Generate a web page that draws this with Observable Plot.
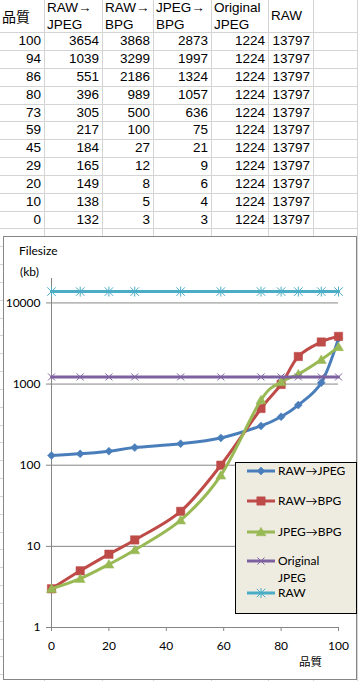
<!DOCTYPE html>
<html>
<head>
<meta charset="utf-8">
<script src="https://cdn.jsdelivr.net/npm/d3@7"></script>
<script src="https://cdn.jsdelivr.net/npm/@observablehq/plot@0.6"></script>
<style>
  html, body { margin: 0; padding: 0; background: #fff; }
  body { width: 358px; height: 681px; overflow: hidden; position: relative;
         font-family: "Liberation Sans", "Noto Sans CJK JP", sans-serif; }
  .hl { position: absolute; left: 0; width: 358px; height: 1px; background: #d4d4d4; }
  .vl { position: absolute; top: 0; width: 1px; height: 681px; background: #d4d4d4; }
  .cell { position: absolute; height: 16px; line-height: 16px; font-size: 13.5px; color: #000; white-space: nowrap; }
  .cjk { font-family: "Noto Sans CJK JP", sans-serif; font-size: 14px; }
  #chart { position: absolute; left: 3px; top: 236px; width: 354px; height: 444px; box-sizing: border-box;
           border: 1px solid #868686; background: #fff; }
  #plot { position: absolute; left: 0; top: 236px; }
  .lbl { position: absolute; font-family: Lato, "Noto Sans CJK JP", sans-serif; font-size: 12px; color: #000; white-space: nowrap; line-height: 16px; }
  #legend { position: absolute; left: 235px; top: 462px; width: 122px; height: 152px; box-sizing: border-box;
            border: 1px solid #000; background: #eeece1; }
  .ltext { position: absolute; left: 42px; font-family: Lato, "Noto Sans CJK JP", sans-serif; font-size: 12px; line-height: 16px; color: #000; white-space: nowrap; }
  .lsw { position: absolute; left: 11px; }
</style>
</head>
<body>
<div id="sheet"></div>
<div id="chart"></div>
<div id="plot"></div>
<div class="lbl" style="left:19px; top:243px;">Filesize</div>
<div class="lbl" style="left:20px; top:264px;">(kb)</div>
<div class="lbl" style="left:299px; top:653px; font-family:'Noto Sans CJK JP',sans-serif; font-size:11.5px;">品質</div>
<div id="legend"></div>
<script>
// ---------- data ----------
const quality      = [100, 94, 86, 80, 73, 59, 45, 29, 20, 10, 0];
const rawToJpeg    = [3654, 1039, 551, 396, 305, 217, 184, 165, 149, 138, 132];
const rawToBpg     = [3868, 3299, 2186, 989, 500, 100, 27, 12, 8, 5, 3];
const jpegToBpg    = [2873, 1997, 1324, 1057, 636, 75, 21, 9, 6, 4, 3];
const originalJpeg = [1224, 1224, 1224, 1224, 1224, 1224, 1224, 1224, 1224, 1224, 1224];
const rawFile      = [13797, 13797, 13797, 13797, 13797, 13797, 13797, 13797, 13797, 13797, 13797];
const headers      = [["品質"], ["RAW→", "JPEG"], ["RAW→", "BPG"], ["JPEG→", "BPG"], ["Original", "JPEG"], ["RAW"]];
const seriesNames  = ["RAW→JPEG", "RAW→BPG", "JPEG→BPG", "Original JPEG", "RAW"];
const yTicks       = [1, 10, 100, 1000, 10000];
const xTicks       = [0, 20, 40, 60, 80, 100];

// ---------- spreadsheet ----------
const colEdges = [44, 102, 153, 211, 268, 313];
const headerH = 32.3, rowH = 17.83;
const sheet = document.getElementById("sheet");
function add(cls, style, text) {
  const d = document.createElement("div");
  d.className = cls;
  d.setAttribute("style", style);
  if (text !== undefined) d.textContent = text;
  sheet.appendChild(d);
  return d;
}
for (let y = headerH; y < 681; y += rowH) add("hl", `top:${y.toFixed(2)}px`);
colEdges.forEach(x => add("vl", `left:${x}px`));
add("vl", `left:357px`);
// headers
headers.forEach((lines, c) => {
  const left = (c === 0 ? 2 : colEdges[c - 1] + 3);
  const centers = lines.length === 1 ? [15.5] : [7.5, 25];
  lines.forEach((t, k) => {
    const cjk = /[\u3000-\u9fff]/.test(t) ? " cjk" : "";
    add("cell" + cjk, `left:${left}px; top:${(centers[k] - 8).toFixed(1)}px`, t);
  });
});
// data rows
const tableCols = [quality, rawToJpeg, rawToBpg, jpegToBpg, originalJpeg, rawFile];
quality.forEach((_, r) => {
  const cy = headerH + rowH * (r + 0.5);
  tableCols.forEach((arr, c) => {
    const rightEdge = colEdges[c] - 3;
    add("cell", `right:${358 - rightEdge}px; top:${(cy - 8).toFixed(1)}px; text-align:right`, String(arr[r]));
  });
});

// ---------- symbols ----------
const symDiamond = { draw(ctx, size) { const r = Math.sqrt(size / Math.PI);
  ctx.moveTo(0, -r); ctx.lineTo(r, 0); ctx.lineTo(0, r); ctx.lineTo(-r, 0); ctx.closePath(); } };
const symSquare = { draw(ctx, size) { const r = Math.sqrt(size / Math.PI);
  ctx.moveTo(-r, -r); ctx.lineTo(r, -r); ctx.lineTo(r, r); ctx.lineTo(-r, r); ctx.closePath(); } };
const symTriangle = { draw(ctx, size) { const r = Math.sqrt(size / Math.PI);
  ctx.moveTo(0, -r * 0.95); ctx.lineTo(r, r * 0.75); ctx.lineTo(-r, r * 0.75); ctx.closePath(); } };
const symTimes = { draw(ctx, size) { const r = Math.sqrt(size / Math.PI);
  ctx.moveTo(-r, -r); ctx.lineTo(r, r); ctx.moveTo(-r, r); ctx.lineTo(r, -r); } };
const symAsterisk = { draw(ctx, size) { const r = Math.sqrt(size / Math.PI); const d = r * 0.85;
  ctx.moveTo(0, -r); ctx.lineTo(0, r); ctx.moveTo(-d, -d); ctx.lineTo(d, d); ctx.moveTo(-d, d); ctx.lineTo(d, -d); } };

const series = [
  { name: seriesNames[0], values: rawToJpeg,    color: "#4a7ebb", symbol: symDiamond,  r: 4,   filled: true },
  { name: seriesNames[1], values: rawToBpg,     color: "#be4b48", symbol: symSquare,   r: 4.2, filled: true },
  { name: seriesNames[2], values: jpegToBpg,    color: "#98b954", symbol: symTriangle, r: 5,   filled: true },
  { name: seriesNames[3], values: originalJpeg, color: "#7d60a0", symbol: symTimes,    r: 3.5, filled: false },
  { name: seriesNames[4], values: rawFile,      color: "#4bacc6", symbol: symAsterisk, r: 5,   filled: false }
];

// ---------- chart ----------
const marks = [
  Plot.ruleY([10, 100, 1000, 10000], { stroke: "#868686", strokeWidth: 1 }),
  Plot.ruleY([1], { stroke: "#868686", strokeWidth: 1 }),
  Plot.ruleX([0], { stroke: "#868686", strokeWidth: 1 }),
  Plot.axisY({ ticks: yTicks, tickSize: 5, tickPadding: 6, stroke: "#868686", fill: "#000",
               tickFormat: d => String(d), label: null }),
  Plot.axisX({ ticks: xTicks, tickSize: 4, tickPadding: 10, stroke: "#868686", fill: "#000",
               tickFormat: d => String(d), label: null })
];
series.forEach(s => {
  const pts = quality.map((q, i) => ({ x: q, y: s.values[i] }));
  marks.push(Plot.line(pts, { x: "x", y: "y", stroke: s.color, strokeWidth: 3, curve: "cardinal" }));
  marks.push(Plot.dot(pts, {
    x: "x", y: "y", symbol: () => s.symbol, r: s.r,
    fill: s.filled ? s.color : "none", stroke: s.color, strokeWidth: s.filled ? 0.5 : 1
  }));
});

const chart = Plot.plot({
  width: 358, height: 444,
  marginLeft: 51, marginRight: 20, marginTop: 42, marginBottom: 53,
  style: { background: "transparent", fontFamily: "Lato, 'Noto Sans CJK JP', sans-serif", fontSize: "12px", overflow: "visible" },
  x: { domain: [0, 100] },
  y: { type: "log", domain: [1, 20000] },
  marks
});
document.getElementById("plot").appendChild(chart);

// ---------- legend ----------
const legend = document.getElementById("legend");
const centers = [8, 38, 68.5, 98, 129.5];
series.forEach((s, i) => {
  const cy = centers[i];
  const svg = d3.create("svg").attr("class", "lsw").attr("width", 28).attr("height", 14)
    .style("top", (cy - 7) + "px");
  svg.append("line").attr("x1", 0).attr("x2", 28).attr("y1", 7).attr("y2", 7)
    .attr("stroke", s.color).attr("stroke-width", 3);
  svg.append("path").attr("transform", "translate(14,7)")
    .attr("d", d3.symbol(s.symbol, Math.PI * s.r * s.r)())
    .attr("fill", s.filled ? s.color : "none").attr("stroke", s.color).attr("stroke-width", s.filled ? 0.5 : 1);
  legend.appendChild(svg.node());
  const parts = s.name === "Original JPEG" ? ["Original", "JPEG"] : [s.name];
  parts.forEach((t, k) => {
    const d = document.createElement("div");
    d.className = "ltext";
    d.style.top = (cy - 8 + k * 16.7) + "px";
    d.textContent = t;
    legend.appendChild(d);
  });
});
</script>
</body>
</html>
